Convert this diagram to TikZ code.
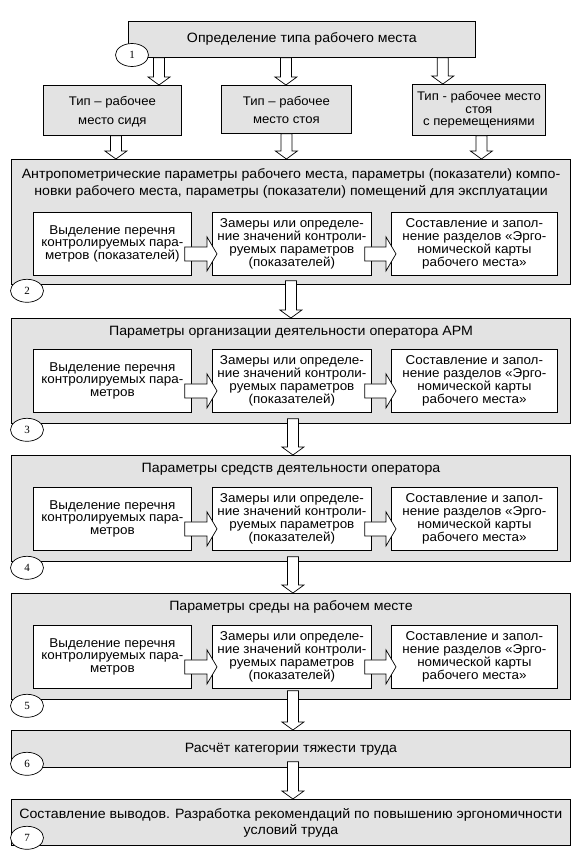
\documentclass[tikz,border=0pt]{standalone}
\usepackage{fontspec}
\setmainfont{Liberation Sans}[FakeStretch=1.05]
\newfontfamily\numfont{Liberation Serif}
\usetikzlibrary{calc,shapes.geometric}
\definecolor{boxgray}{HTML}{E3E3E3}
\tikzset{
  gbox/.style={draw, fill=boxgray, line width=0.8pt, inner sep=0pt, anchor=north west, align=center},
  wbox/.style={draw, fill=white, line width=0.8pt, inner sep=0pt, anchor=north west, align=center,
    minimum height=63pt, font=\fontsize{12.8}{12.8}\selectfont},
  ttl/.style={inner sep=0pt, align=center, font=\fontsize{13.5}{17}\selectfont},
  num/.style={ellipse, draw, fill=white, line width=0.7pt, minimum width=33pt, minimum height=23pt,
    inner sep=0pt, font=\numfont\fontsize{11}{12}\selectfont},
  vblk/.style={draw, fill=white, line width=0.7pt, to path={let \p1=(\tikztostart), \p2=(\tikztotarget) in
    (\x1-5.5pt,\y1) -- (\x1-5.5pt,\y2+8pt) -- (\x1-11pt,\y2+8pt) -- (\x1,\y2) -- (\x1+11pt,\y2+8pt)
    -- (\x1+5.5pt,\y2+8pt) -- (\x1+5.5pt,\y1) -- cycle}},
  hblk/.style={draw, fill=white, line width=0.7pt, to path={let \p1=(\tikztostart), \p2=(\tikztotarget) in
    (\x1,\y1+7pt) -- (\x2-10pt,\y1+7pt) -- (\x2-10pt,\y1+17pt) -- (\x2,\y1) -- (\x2-10pt,\y1-17pt)
    -- (\x2-10pt,\y1-7pt) -- (\x1,\y1-7pt) -- cycle}}
}
% #1 name, #2 top, #3 height, #4 title centre y, #5 title, #6 inner top, #7 number, #8 first inner text
\newcommand\mkstage[8]{%
  \node[gbox, minimum width=559pt, minimum height=#3pt] (#1) at (11,#2) {};
  \node[ttl] (#1t) at (291,#4) {#5};
  \node[wbox, minimum width=158pt] (#1a) at (33,#6) {#8};
  \node[wbox, minimum width=159pt] (#1b) at (212,#6) {Замеры или определе-\\ние значений контроли-\\руемых параметров\\(показателей)};
  \node[wbox, minimum width=166pt] (#1c) at (391,#6) {Составление и запол-\\нение разделов «Эрго-\\номической карты\\рабочего места»};
  \draw[hblk] ([xshift=-7pt,yshift=-10pt]#1a.east) to ([xshift=5pt]#1b.west);
  \draw[hblk] ([xshift=-7pt,yshift=-10pt]#1b.east) to ([xshift=5pt]#1c.west);
  \node[num] (#1n) at ([xshift=16pt,yshift=-6pt]#1.south west) {#7};
}
\begin{document}
\begin{tikzpicture}[x=1pt,y=-1pt]
\useasboundingbox (0,0) rectangle (582,859);
% stage 1
\node[gbox, minimum width=347pt, minimum height=36pt, font=\fontsize{13.5}{15}\selectfont] (top) at (128,21) {Определение типа рабочего места};
\node[gbox, minimum width=138pt, minimum height=50pt, font=\fontsize{12.5}{14}\selectfont] (tA) at (43,85) {\\[-3pt]Тип – рабочее\\[5pt]место сидя};
\node[gbox, minimum width=130pt, minimum height=48pt, font=\fontsize{12.5}{14}\selectfont] (tB) at (221,85) {\\[-3pt]Тип – рабочее\\[4pt]место стоя};
\node[gbox, minimum width=133pt, minimum height=51pt, font=\fontsize{12.5}{12.5}\selectfont] (tC) at (412,84) {Тип - рабочее место\\стоя\\с перемещениями};
\node[num] (n1) at (132,55) {1};
\draw[vblk] ([xshift=31pt]top.south west) to (tA.north);
\draw[vblk] ([xshift=-16pt]top.south) to (tB.north);
\draw[vblk] ([xshift=-33pt]top.south east) to (tC.north);
% stages 2-5
\mkstage{s2}{159}{125}{183.5}{Антропометрические параметры рабочего места, параметры (показатели) компо-\\новки рабочего места, параметры (показатели) помещений для эксплуатации}{212}{2}{Выделение перечня\\контролируемых пара-\\метров (показателей)}
\draw[vblk] ([xshift=3.5pt]tA.south) to (s2.north);
\draw[vblk] (tB.south) to (s2.north);
\draw[vblk] ([xshift=2.5pt]tC.south) to (s2.north);
\mkstage{s3}{318}{105}{332}{Параметры организации деятельности оператора АРМ}{349}{3}{Выделение перечня\\контролируемых пара-\\метров}
\draw[vblk] ([yshift=4pt]s2.south) to (s3.north);
\mkstage{s4}{455}{106}{469}{Параметры средств деятельности оператора}{487}{4}{Выделение перечня\\контролируемых пара-\\метров}
\draw[vblk] ([xshift=2pt,yshift=5pt]s3.south) to (s4.north);
\mkstage{s5}{593}{106}{607}{Параметры среды на рабочем месте}{625}{5}{Выделение перечня\\контролируемых пара-\\метров}
\draw[vblk] ([xshift=2pt,yshift=5pt]s4.south) to (s5.north);
% stage 6
\node[gbox, minimum width=559pt, minimum height=37pt, font=\fontsize{13.5}{15}\selectfont] (s6) at (11,730) {Расчёт категории тяжести труда};
\node[num] (s6n) at ([xshift=16pt,yshift=4pt]s6.south west) {6};
\draw[vblk] ([xshift=2pt,yshift=9pt]s5.south) to (s6.north);
% stage 7
\node[gbox, minimum width=559pt, minimum height=46pt, font=\fontsize{13.5}{16}\selectfont] (s7) at (11,799) {Составление выводов. Разработка рекомендаций по повышению эргономичности\\условий труда};
\node[num] (s7n) at ([xshift=16pt,yshift=8pt]s7.south west) {7};
\draw[vblk] ([xshift=2pt,yshift=6pt]s6.south) to (s7.north);
\end{tikzpicture}
\end{document}
